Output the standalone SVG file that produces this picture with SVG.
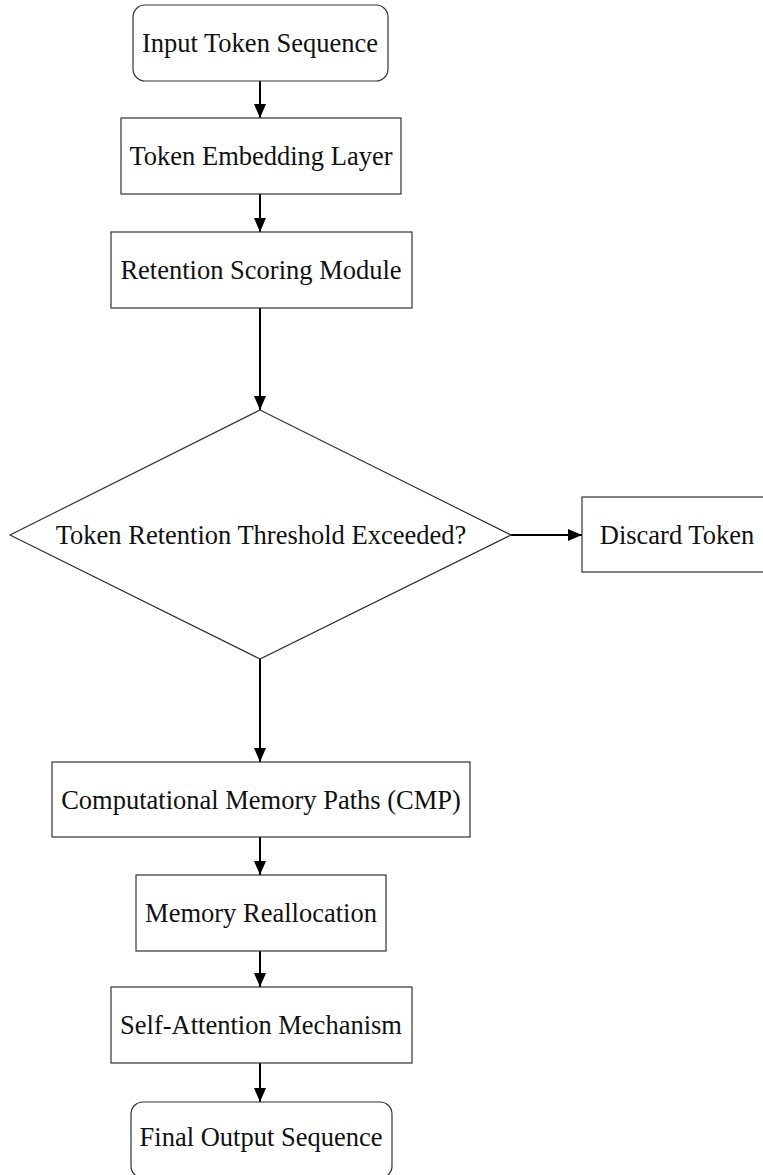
<svg xmlns="http://www.w3.org/2000/svg" width="763" height="1175" viewBox="0 0 763 1175">
<style>
.node{fill:#fff;stroke:#333;stroke-width:1.2}
.lbl{font-family:"Liberation Serif","Times New Roman",serif;font-size:26.5px;fill:#111;text-anchor:middle;dominant-baseline:central}
.edge{stroke:#000;stroke-width:2;fill:none}
</style>
<defs>
<marker id="arr" markerUnits="userSpaceOnUse" markerWidth="14" markerHeight="12" refX="14" refY="6" orient="auto">
<path d="M0,0 L14,6 L0,12 z" fill="#000"/>
</marker>
</defs>
<rect width="763" height="1175" fill="#fff"/>
<g id="edges">
<line class="edge" x1="260" y1="81" x2="260" y2="118" marker-end="url(#arr)"/>
<line class="edge" x1="260" y1="194" x2="260" y2="232" marker-end="url(#arr)"/>
<line class="edge" x1="260" y1="308" x2="260" y2="410" marker-end="url(#arr)"/>
<line class="edge" x1="511" y1="535" x2="582" y2="535" marker-end="url(#arr)"/>
<line class="edge" x1="260" y1="659" x2="260" y2="762" marker-end="url(#arr)"/>
<line class="edge" x1="260" y1="837" x2="260" y2="875" marker-end="url(#arr)"/>
<line class="edge" x1="260" y1="951" x2="260" y2="987" marker-end="url(#arr)"/>
<line class="edge" x1="260" y1="1063" x2="260" y2="1102" marker-end="url(#arr)"/>
</g>
<g id="n1"><rect class="node" x="133" y="5" width="255" height="76" rx="12"/><text class="lbl" x="260" y="43">Input Token Sequence</text></g>
<g id="n2"><rect class="node" x="121" y="118" width="280" height="76"/><text class="lbl" x="261" y="156">Token Embedding Layer</text></g>
<g id="n3"><rect class="node" x="111" y="232" width="301" height="76"/><text class="lbl" x="261" y="270">Retention Scoring Module</text></g>
<g id="n4"><polygon class="node" points="260,410 511,535 260,659 10,535"/><text class="lbl" x="261" y="535">Token Retention Threshold Exceeded?</text></g>
<g id="n5"><rect class="node" x="582" y="497" width="190" height="75"/><text class="lbl" x="677" y="535">Discard Token</text></g>
<g id="n6"><rect class="node" x="52" y="762" width="418" height="75"/><text class="lbl" x="261" y="800">Computational Memory Paths (CMP)</text></g>
<g id="n7"><rect class="node" x="136" y="875" width="250" height="76"/><text class="lbl" x="261" y="913">Memory Reallocation</text></g>
<g id="n8"><rect class="node" x="111" y="987" width="301" height="76"/><text class="lbl" x="261" y="1025">Self-Attention Mechanism</text></g>
<g id="n9"><rect class="node" x="131" y="1102" width="261" height="76" rx="12"/><text class="lbl" x="261" y="1137">Final Output Sequence</text></g>
</svg>
